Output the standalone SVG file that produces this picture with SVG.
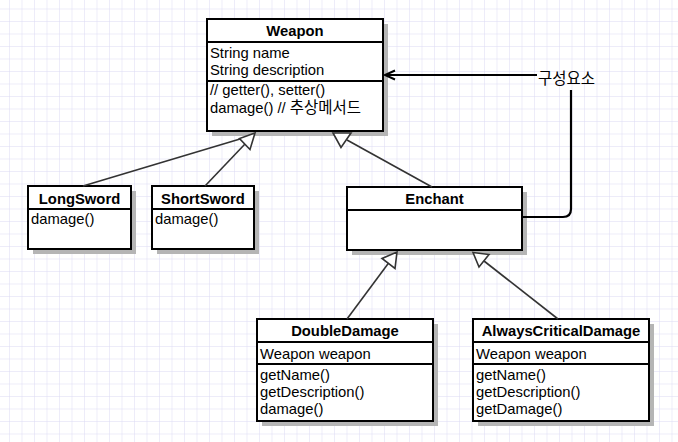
<svg xmlns="http://www.w3.org/2000/svg" width="678" height="442" viewBox="0 0 678 442">
<defs>
<pattern id="grid" width="12.5" height="12.5" patternUnits="userSpaceOnUse" x="9" y="8.5">
<path d="M12.5 0 L0 0 L0 12.5" fill="none" stroke="#dcdaf4" stroke-width="1"/>
</pattern>
<marker id="open" markerUnits="userSpaceOnUse" markerWidth="14" markerHeight="12" refX="11" refY="6" orient="auto">
<path d="M1 1.5 L11 6 L1 10.5" fill="none" stroke="#000" stroke-width="2"/>
</marker>
<style>
.t{font-family:"Liberation Sans","Noto Sans CJK KR",sans-serif;font-size:14.8px;fill:#000}
.k{font-family:"Noto Sans CJK KR",sans-serif;font-size:15.5px}
.h{font-weight:bold;text-anchor:middle}
.box{fill:#fff;stroke:#000;stroke-width:2}
.sh{fill:#b5b5b5}
.sep{stroke:#000;stroke-width:2}
.gen{fill:none;stroke:#333;stroke-width:1.6}
.tri{fill:#fff;stroke:#333;stroke-width:1.6;stroke-linejoin:miter}
.comp{fill:none;stroke:#000;stroke-width:2.2}
</style>
</defs>
<rect width="678" height="442" fill="#fff"/>
<rect width="678" height="442" fill="url(#grid)"/>

<g id="Weapon">
<rect class="sh" x="212" y="24" width="176" height="112"/>
<rect class="box" x="207" y="19" width="176" height="112"/>
<line class="sep" x1="207" y1="42" x2="383" y2="42"/>
<line class="sep" x1="207" y1="81" x2="383" y2="81"/>
<text class="t h" x="295" y="36">Weapon</text>
<text class="t" x="210" y="58">String name</text>
<text class="t" x="210" y="75">String description</text>
<text class="t" x="210" y="95">// getter(), setter()</text>
<text class="t" x="210" y="113">damage() // <tspan class="k">추상메서드</tspan></text>
</g>

<g id="LongSword">
<rect class="sh" x="33" y="191" width="103" height="63"/>
<rect class="box" x="28" y="186" width="103" height="63"/>
<line class="sep" x1="28" y1="209" x2="131" y2="209"/>
<text class="t h" x="79.5" y="204">LongSword</text>
<text class="t" x="31" y="224">damage()</text>
</g>

<g id="ShortSword">
<rect class="sh" x="157" y="191" width="102" height="63"/>
<rect class="box" x="152" y="186" width="102" height="63"/>
<line class="sep" x1="152" y1="209" x2="254" y2="209"/>
<text class="t h" x="203" y="204">ShortSword</text>
<text class="t" x="155" y="224">damage()</text>
</g>

<g id="Enchant">
<rect class="sh" x="352" y="192" width="175" height="63"/>
<rect class="box" x="347" y="187" width="175" height="63"/>
<line class="sep" x1="347" y1="210" x2="522" y2="210"/>
<text class="t h" x="434.5" y="204">Enchant</text>
</g>

<g id="DoubleDamage">
<rect class="sh" x="262" y="324" width="176" height="102"/>
<rect class="box" x="257" y="319" width="176" height="102"/>
<line class="sep" x1="257" y1="342" x2="433" y2="342"/>
<line class="sep" x1="257" y1="364" x2="433" y2="364"/>
<text class="t h" x="345" y="336">DoubleDamage</text>
<text class="t" x="260" y="359">Weapon weapon</text>
<text class="t" x="260" y="380">getName()</text>
<text class="t" x="260" y="397">getDescription()</text>
<text class="t" x="260" y="414">damage()</text>
</g>

<g id="AlwaysCriticalDamage">
<rect class="sh" x="478" y="324" width="176" height="102"/>
<rect class="box" x="473" y="319" width="176" height="102"/>
<line class="sep" x1="473" y1="342" x2="649" y2="342"/>
<line class="sep" x1="473" y1="364" x2="649" y2="364"/>
<text class="t h" x="561" y="336">AlwaysCriticalDamage</text>
<text class="t" x="476" y="359">Weapon weapon</text>
<text class="t" x="476" y="380">getName()</text>
<text class="t" x="476" y="397">getDescription()</text>
<text class="t" x="476" y="414">getDamage()</text>
</g>

<g id="label">
<text class="t k" x="538" y="84">구성요소</text>
</g>

<g id="connectors">
<line class="gen" x1="83" y1="186" x2="250" y2="136"/>
<line class="gen" x1="205" y1="186" x2="245" y2="144"/>
<polygon class="tri" points="255,133 250,149.5 239.5,138.5"/>
<line class="gen" x1="432" y1="187" x2="347" y2="140"/>
<polygon class="tri" points="333,133 351,133 341,147.5"/>
<line class="gen" x1="347" y1="319" x2="388.6" y2="263"/>
<polygon class="tri" points="397,252 395,268.5 382,258.5"/>
<line class="gen" x1="558" y1="319" x2="484" y2="261"/>
<polygon class="tri" points="473,252.5 489,254.5 479,267"/>
<path class="comp" d="M537 75 L385 75" marker-end="url(#open)"/>
<path class="comp" d="M571 90 L571 209 Q571 217 563 217 L523 217"/>
</g>
</svg>
